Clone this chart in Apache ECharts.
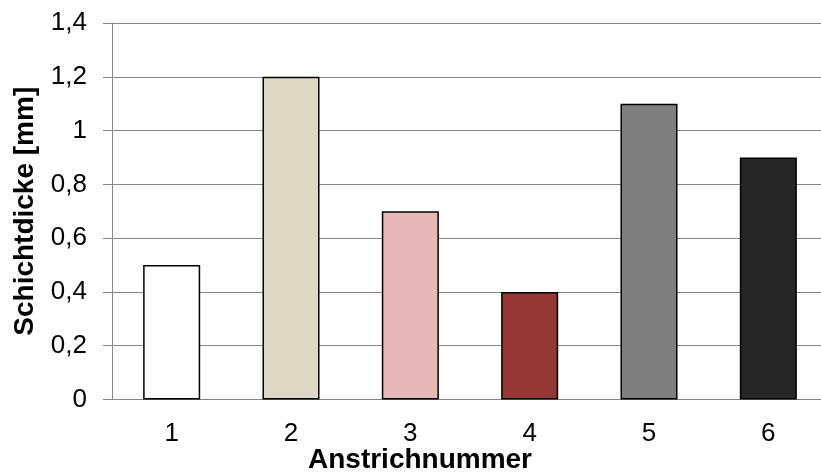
<!DOCTYPE html>
<html>
<head>
<meta charset="utf-8">
<script src="https://cdn.jsdelivr.net/npm/echarts@6/dist/echarts.min.js"></script>
<style>
  html, body { margin: 0; padding: 0; background: #ffffff; overflow: hidden; }
  #chart { width: 821px; height: 476px; }
</style>
</head>
<body>
<div id="chart"></div>
<script>
// Schichtdicke je Anstrich
const categories = ['1', '2', '3', '4', '5', '6'];
const thickness = [0.5, 1.2, 0.7, 0.4, 1.1, 0.9];
const barColors = ['#FFFFFF', '#DDD9C4', '#E6B9B8', '#953735', '#7F7F7F', '#262626'];
const yTicks = [0, 0.2, 0.4, 0.6, 0.8, 1, 1.2, 1.4];

const font = 'Liberation Sans, Arial, sans-serif';
const gridColor = '#868686';

const chart = echarts.init(document.getElementById('chart'), null, { renderer: 'canvas' });

chart.setOption({
  animation: false,
  backgroundColor: '#ffffff',
  // x-axis caption, placed as its own text block below the category labels
  title: {
    text: 'Anstrichnummer',
    left: 420,
    top: 446,
    textAlign: 'center',
    padding: 0,
    textStyle: { fontFamily: font, fontSize: 28, fontWeight: 'bold', color: '#000' }
  },
  grid: {
    left: 112, right: -7, top: 23, bottom: 76.5,
    containLabel: false, outerBoundsMode: 'none'
  },
  xAxis: {
    type: 'category',
    data: categories,
    axisLine: { show: true, lineStyle: { color: gridColor, width: 1 } },
    axisTick: { show: false },
    axisLabel: { fontFamily: font, fontSize: 26, color: '#000', margin: 21 },
    splitLine: { show: false }
  },
  yAxis: {
    type: 'value',
    min: yTicks[0],
    max: yTicks[yTicks.length - 1],
    interval: 0.2,
    name: 'Schichtdicke [mm]',
    nameLocation: 'middle',
    nameGap: 73,
    nameRotate: 90,
    nameTextStyle: { fontFamily: font, fontSize: 28, fontWeight: 'bold', color: '#000' },
    axisLine: { show: true, lineStyle: { color: gridColor, width: 1 } },
    axisTick: { show: true, inside: false, length: 9, lineStyle: { color: gridColor, width: 1 } },
    axisLabel: {
      fontFamily: font, fontSize: 26, color: '#000', margin: 25,
      formatter: v => String(Math.round(v * 10) / 10).replace('.', ',')
    },
    splitLine: { show: true, lineStyle: { color: gridColor, width: 1 } }
  },
  series: [{
    type: 'bar',
    data: thickness.map((v, i) => ({
      value: v,
      itemStyle: { color: barColors[i], borderColor: '#000', borderWidth: 1.5 }
    })),
    barWidth: '47.8%'
  }]
});
</script>
</body>
</html>
